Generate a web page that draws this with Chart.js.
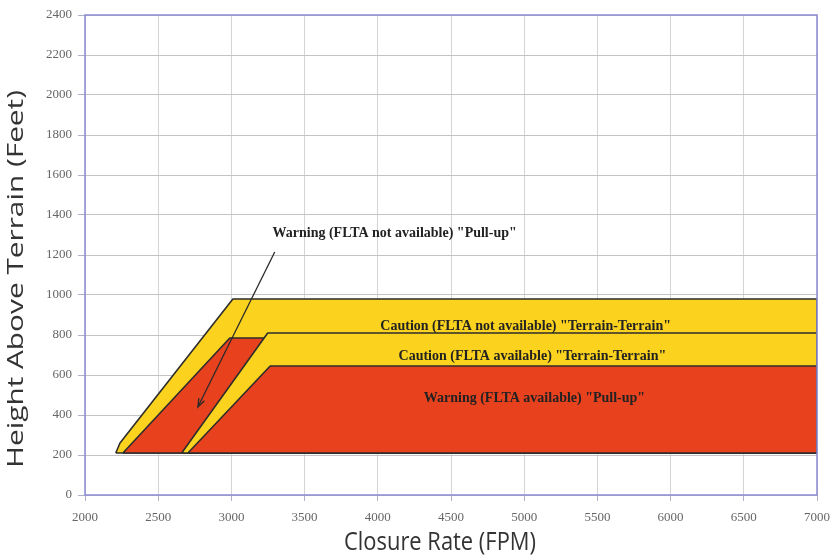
<!DOCTYPE html>
<html>
<head>
<meta charset="utf-8">
<script src="https://cdn.jsdelivr.net/npm/chart.js@4.4.0/dist/chart.umd.min.js"></script>
<style>
  html, body { margin: 0; padding: 0; background: #fff; }
</style>
</head>
<body>
<canvas id="taws" width="839" height="560"></canvas>
<script>
// Envelope outlines (closure rate FPM, height ft), closed polygons
const cautionNoFltaX = [2210, 2239, 3010, 7000, 7000, 2210];
const cautionNoFltaY = [210, 260, 980, 980, 210, 210];
const warningNoFltaX = [2259, 2989, 3300, 3300, 2259];
const warningNoFltaY = [210, 785, 785, 210, 210];
const cautionFltaX = [2662, 2675, 3248, 7000, 7000, 2662];
const cautionFltaY = [210, 225, 810, 810, 210, 210];
const warningFltaX = [2703, 3265, 7000, 7000, 2703];
const warningFltaY = [210, 645, 645, 210, 210];

// Axis ticks
const xTicks = [2000, 2500, 3000, 3500, 4000, 4500, 5000, 5500, 6000, 6500, 7000];
const yTicks = [0, 200, 400, 600, 800, 1000, 1200, 1400, 1600, 1800, 2000, 2200, 2400];

// Labels inside the plot (centre in data units)
const labelTexts = [
    'Warning (FLTA not available) "Pull-up"',
    'Caution (FLTA not available) "Terrain-Terrain"',
    'Caution (FLTA available) "Terrain-Terrain"',
    'Warning (FLTA available) "Pull-up"'
];
const labelX = [4115, 5010, 5056, 5070];
const labelY = [1310, 845, 695, 485];

// Arrow from label down into the red wedge
const arrowX = [3296, 2771];
const arrowY = [1215, 440];

const X_TITLE = 'Closure Rate (FPM)';
const Y_TITLE = 'Height Above Terrain (Feet)';

const YELLOW = '#fbd31e';
const RED = '#e8411e';
const EDGE = '#2d2d2d';

const toPoints = (xs, ys) => xs.map((x, i) => ({ x: x, y: ys[i] }));

const zone = (label, xs, ys, color, order) => ({
    label: label,
    data: toPoints(xs, ys),
    showLine: true,
    fill: 'shape',
    backgroundColor: color,
    borderColor: EDGE,
    borderWidth: 1.6,
    borderJoinStyle: 'round',
    pointRadius: 0,
    tension: 0,
    order: order
});

// draws text squeezed/stretched to a given length
function fitText(ctx, text, len) {
    const w = ctx.measureText(text).width;
    ctx.scale(len / w, 1);
    ctx.fillText(text, 0, 0);
}

const frame = {
    id: 'frame',
    afterDraw(chart) {
        const { ctx, chartArea: a } = chart;
        ctx.save();
        ctx.strokeStyle = '#8a8ad2';
        ctx.lineWidth = 1.5;
        ctx.strokeRect(a.left, a.top, a.right - a.left, a.bottom - a.top);

        ctx.fillStyle = '#333';
        ctx.textAlign = 'center';
        ctx.textBaseline = 'middle';

        // y title, stretched along its length like the original artwork
        ctx.save();
        ctx.translate(17, (a.top + a.bottom) / 2 + 24);
        ctx.rotate(-Math.PI / 2);
        ctx.font = '21px "Open Sans", sans-serif';
        fitText(ctx, Y_TITLE, 378);
        ctx.restore();

        // x title, condensed
        ctx.save();
        ctx.translate((a.left + a.right) / 2 - 11, a.bottom + 48);
        ctx.font = '26px "Open Sans", sans-serif';
        fitText(ctx, X_TITLE, 192);
        ctx.restore();

        ctx.restore();
    }
};

const notes = {
    id: 'notes',
    afterDatasetsDraw(chart) {
        const { ctx, scales } = chart;
        const xs = scales.x, ys = scales.y;
        ctx.save();
        ctx.fillStyle = '#222';
        ctx.font = 'bold 14px "Liberation Serif", serif';
        ctx.textAlign = 'center';
        ctx.textBaseline = 'middle';
        labelTexts.forEach((t, i) => {
            ctx.fillText(t, xs.getPixelForValue(labelX[i]), ys.getPixelForValue(labelY[i]));
        });

        // arrow
        const x0 = xs.getPixelForValue(arrowX[0]), y0 = ys.getPixelForValue(arrowY[0]);
        const x1 = xs.getPixelForValue(arrowX[1]), y1 = ys.getPixelForValue(arrowY[1]);
        ctx.strokeStyle = '#2a2a2a';
        ctx.lineWidth = 1.3;
        ctx.beginPath();
        ctx.moveTo(x0, y0);
        ctx.lineTo(x1, y1);
        ctx.stroke();
        const ang = Math.atan2(y1 - y0, x1 - x0);
        const len = 9;
        ctx.beginPath();
        ctx.moveTo(x1 - len * Math.cos(ang - 0.35), y1 - len * Math.sin(ang - 0.35));
        ctx.lineTo(x1, y1);
        ctx.lineTo(x1 - len * Math.cos(ang + 0.35), y1 - len * Math.sin(ang + 0.35));
        ctx.stroke();
        ctx.restore();
    }
};

const tickFont = { family: '"Liberation Serif", serif', size: 13 };

new Chart(document.getElementById('taws'), {
    type: 'scatter',
    data: {
        datasets: [
            zone('Warning (FLTA available)', warningFltaX, warningFltaY, RED, 1),
            zone('Caution (FLTA available)', cautionFltaX, cautionFltaY, YELLOW, 2),
            zone('Warning (FLTA not available)', warningNoFltaX, warningNoFltaY, RED, 3),
            zone('Caution (FLTA not available)', cautionNoFltaX, cautionNoFltaY, YELLOW, 4)
        ]
    },
    options: {
        responsive: false,
        animation: false,
        layout: { padding: { top: 15, right: 21, left: 0, bottom: 0 } },
        plugins: {
            legend: { display: false },
            tooltip: { enabled: false }
        },
        scales: {
            x: {
                type: 'linear',
                min: 2000,
                max: 7000,
                afterBuildTicks: s => { s.ticks = xTicks.map(v => ({ value: v })); },
                afterFit: s => { s.height = 65; },
                ticks: {
                    color: '#666',
                    font: tickFont,
                    padding: 9,
                    callback: v => String(v)
                },
                grid: { color: '#d4d4d4', tickLength: 6, tickColor: '#b0b0c8' },
                border: { display: false },
                title: { display: false }
            },
            y: {
                type: 'linear',
                min: 0,
                max: 2400,
                afterBuildTicks: s => { s.ticks = yTicks.map(v => ({ value: v })); },
                afterFit: s => { s.width = 85; },
                ticks: {
                    color: '#666',
                    font: tickFont,
                    padding: 6,
                    callback: v => String(v)
                },
                grid: { color: '#c4c4c4', tickLength: 7, tickColor: '#b0b0c8' },
                border: { display: false },
                title: { display: false }
            }
        }
    },
    plugins: [frame, notes]
});
</script>
</body>
</html>
